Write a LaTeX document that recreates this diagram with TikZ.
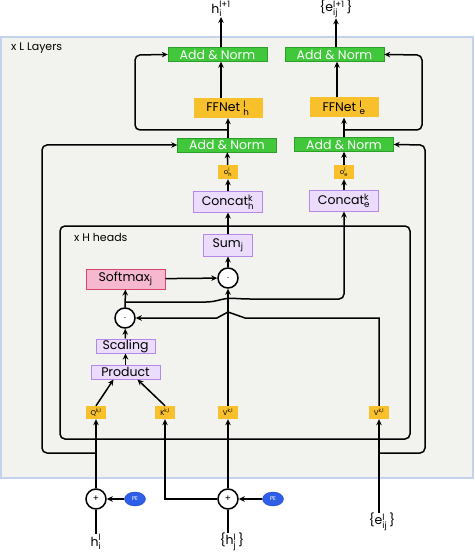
\documentclass[tikz,border=0pt]{standalone}
\usepackage{amsmath}
\usepackage{fontspec}
\setmainfont{Poppins}
\usepackage{tikz}
\usetikzlibrary{shapes,arrows,arrows.meta}

\definecolor{bgGray}{HTML}{F2F2EE}
\definecolor{bgLine}{HTML}{C3D3EC}
\definecolor{normGreen}{HTML}{40C83A}
\definecolor{normLine}{HTML}{2E9E2A}
\definecolor{ffGold}{HTML}{F8C12C}
\definecolor{opFill}{HTML}{EADCFA}
\definecolor{opLine}{HTML}{B388E8}
\definecolor{softFill}{HTML}{F5B8CF}
\definecolor{softLine}{HTML}{D6456F}
\definecolor{peBlue}{HTML}{2F5FE8}
\definecolor{peLine}{HTML}{1A3FBF}

\newcommand{\tx}[1]{\text{#1}}

\begin{document}
\begin{tikzpicture}[x=1pt,y=-1pt]
		\useasboundingbox (0,0) rectangle (474,553);
		\draw[fill=bgGray, draw=bgLine, line width=1.2pt] (1,37) rectangle (473,478);
		\draw[line width=1.5pt, rounded corners=5pt] (60,226) rectangle (410,439);
		\begin{scope}
			[
				styleNorm/.style={minimum width = 99pt, minimum height = 14pt, inner sep=0pt,
					fill=normGreen, draw=normLine, text=white,
					font=\fontsize{12.5}{13}\selectfont},
				styleFF/.style={minimum width = 69pt, minimum height = 20pt, inner sep=0pt,
					fill=ffGold, font=\fontsize{12.5}{13}\selectfont},
				styleOp/.style={minimum width = #1, minimum height = 20pt, inner sep=0pt,
					fill=opFill, draw=opLine, line width=1pt,
					font=\fontsize{12.5}{13}\selectfont},
				styleSoft/.style={minimum width = 79pt, minimum height = 20pt, inner sep=0pt,
					fill=softFill, draw=softLine, line width=1pt,
					font=\fontsize{12.5}{13}\selectfont},
				styleVec/.style={minimum width = 20pt, minimum height = 13pt, inner sep=0pt,
					fill=ffGold, font=\fontsize{7}{7}\selectfont},
				styleDot/.style={circle, draw, line width=1.5pt, fill=white,
					minimum size = 20pt, inner sep=0pt, font=\fontsize{9}{9}\selectfont},
				stylePE/.style={ellipse, fill=peBlue, draw=peLine, text=white,
					minimum width = 21pt, minimum height = 14pt, inner sep=0pt,
					font=\fontsize{5.5}{6}\selectfont},
				styleIO/.style={inner sep=0pt, font=\fontsize{12.5}{13}\selectfont},
				styleTag/.style={inner sep=0pt, anchor=west, font=\fontsize{11}{12}\selectfont},
			]
			\node(tagL)[styleTag] at (11,48) {x L Layers};
			\node(tagH)[styleTag] at (74,237) {x H heads};

			\node(outH)[styleIO] at (221,9) {$\tx{h}_{\tx{i}}^{\tx{l+1}}$};
			\node(outE)[styleIO] at (336,9) {\{e$_{\tx{ij}}^{\tx{l+1}}$\,\}};

			\node(anTopH)[styleNorm] at (217.5,54.5) {Add \& Norm};
			\node(anTopE)[styleNorm] at (334.5,54.5) {Add \& Norm};
			\node(ffH)[styleFF] at (228,108) {FFNet ${}^{\tx{l}}_{\tx{h}}$};
			\node(ffE)[styleFF] at (344,107.5) {FFNet ${}^{\tx{l}}_{\tx{e}}$};

			\node(anMidH)[styleNorm] at (227,145) {Add \& Norm};
			\node(anMidE)[styleNorm] at (344,144.5) {Add \& Norm};
			\node(oH)[styleVec, minimum height=14pt] at (228,172) {o$^{\tx{l}}_{\tx{h}}$};
			\node(oE)[styleVec, minimum height=14pt] at (344,172) {o$^{\tx{l}}_{\tx{e}}$};
			\node(catH)[styleOp=69pt] at (228,202) {Concat$^{\tx{k}}_{\tx{h}}$};
			\node(catE)[styleOp=69pt] at (344,201) {Concat$^{\tx{k}}_{\tx{e}}$};

			\node(sum)[styleOp=49pt, minimum height=22pt] at (228,245) {Sum$_{\tx{j}}$};
			\node(dotUp)[styleDot] at (228,278) {.};
			\node(soft)[styleSoft] at (125.5,279) {Softmax$_{\tx{j}}$};
			\node(dotLo)[styleDot] at (125,318) {.};
			\node(scale)[styleOp=59pt, minimum height=14pt] at (125.5,346) {Scaling};
			\node(prod)[styleOp=69pt, minimum height=14pt] at (125.5,372) {Product};

			\node(Q)[styleVec] at (96,412.5) {Q$^{\tx{k,l}}$};
			\node(K)[styleVec] at (165,412.5) {K$^{\tx{k,l}}$};
			\node(V)[styleVec] at (228,412.5) {V$^{\tx{k,l}}$};
			\node(Ve)[styleVec] at (379,412.5) {V$^{\tx{k,l}}$};

			\node(plusI)[styleDot] at (96,499) {+};
			\node(peI)[stylePE] at (135,499) {PE};
			\node(plusJ)[styleDot] at (228,499) {+};
			\node(peJ)[stylePE] at (273,499) {PE};

			\node(hI)[styleIO] at (96,542) {$\tx{h}^{\tx{l}}_{\tx{i}}$};
			\node(hJ)[styleIO] at (232,542) {\{h$^{\tx{l}}_{\tx{j}}$\,\}};
			\node(eIJ)[styleIO] at (382,522) {\{e$^{\tx{l}}_{\tx{ij}}$\,\}};

			\coordinate(jTopH) at (228,130);
			\coordinate(jTopE) at (344,130);
			\coordinate(jOutH) at (96,453);
			\coordinate(jOutE) at (379,453);
			\coordinate(jScore) at (125,302);
		\end{scope}
		
		\begin{scope}
			[ cost/.style = {->},
				>={Stealth[length=6pt, width=5.5pt]}, line width=1.5pt]
			\path 
			(anTopH.north -| outH) edge[cost]		(outH.south)
			(anTopE.north -| outE) edge[cost]		(outE.south)
			([xshift=-7pt]ffH.north) edge[cost]		([xshift=-7pt]ffH.north |- anTopH.south)
			([xshift=-7pt]ffE.north) edge[cost]		([xshift=-7pt]ffE.north |- anTopE.south)
			(anMidH.north -| ffH) edge[cost]		(ffH.south)
			(anMidE.north) edge[cost]				(ffE.south)
			(oH) edge[cost]							(anMidH)
			(oE) edge[cost]							(anMidE)
			(catH) edge[cost]						(oH)
			(catE) edge[cost]						(oE)
			(sum) edge[cost]						(catH)
			(dotUp) edge[cost]						(sum)
			(soft) edge[cost]						(dotUp)
			(dotLo) edge[cost]						(soft)
			(scale) edge[cost]						(dotLo)
			(prod) edge[cost]						(scale)
			(Q.north) edge[cost]					([xshift=-12pt]prod.south)
			(K.north) edge[cost]					([xshift=12pt]prod.south)
			(V) edge[cost]							(dotUp)
			(plusI) edge[cost]						(Q)
			(plusJ) edge[cost]						(V)
			(peI) edge[cost]						(plusI)
			(peJ) edge[cost]						(plusJ)
			(hI) edge								(plusI)
			(hJ.north -| plusJ) edge				(plusJ)
			(eIJ.north -| Ve) edge[cost]			(Ve);

			\draw[->, rounded corners=5pt] (jTopH) -| (135,55) -- (anTopH.west);
			\draw[->, rounded corners=5pt] (jTopE) -| (422,55) -- (anTopE.east);
			\draw[->, rounded corners=5pt] (jOutH) -| (42,145) -- (anMidH.west);
			\draw[->, rounded corners=5pt] (jOutE) -| (425,145) -- (anMidE.east);
			\draw[->] (plusJ) -| (K);
			\draw[->, rounded corners=5pt] (jScore) -- ++(86,0) -- ++(17,-4) -- ++(17,1)
				-| (catE.south);
			\draw[->] (Ve) |- (245,318) -- ++(-17,-6) -- ++(-11,6) -- (dotLo);
		\end{scope}
	\end{tikzpicture}
\end{document}
